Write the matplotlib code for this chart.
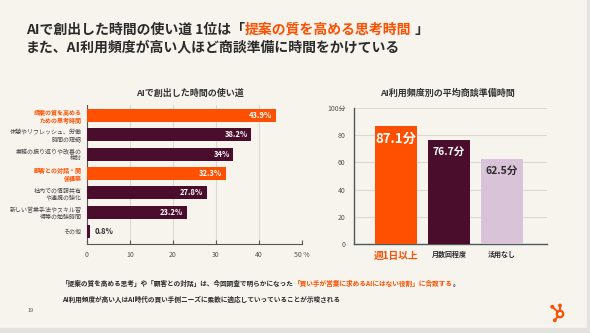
import matplotlib
matplotlib.use("Agg")
import matplotlib.pyplot as plt
from matplotlib.patches import Rectangle, Circle
from matplotlib.text import Annotation

plt.rcParams['font.family'] = ['Noto Sans CJK JP', 'DejaVu Sans']

# --- data ---
use_labels = [
    "提案の質を高める\nための思考時間",
    "休憩やリフレッシュ、労働\n時間の短縮",
    "業務の振り返りや改善の\n検討",
    "顧客との対話・関\n係構築",
    "社内での情報共有\nや連携の強化",
    "新しい営業手法やスキル習\n得等の勉強時間",
    "その他",
]
use_values = [43.9, 38.2, 34, 32.3, 27.8, 23.2, 0.8]
use_value_text = ["43.9%", "38.2%", "34%", "32.3%", "27.8%", "23.2%", "0.8%"]
use_highlight = [True, False, False, True, False, False, False]

freq_labels = ["週1日以上", "月数回程度", "活用なし"]
freq_values = [87.1, 76.7, 62.5]

ORANGE = "#ff4f00"
PLUM = "#4a0d2c"
LILAC = "#d8c3d9"
DARK = "#2b2b2b"
BG = "#f7f4ee"
GRID = "#dcd9d3"

fig = plt.figure(figsize=(5.9, 3.33), dpi=100)
fig.patch.set_facecolor(BG)


def follow(prev, text, color, size):
    # place a text right after another one, on the same baseline
    a = Annotation(text, xy=(1, 0), xycoords=prev, va="bottom", ha="left",
                   fontsize=size, fontweight="bold", color=color, annotation_clip=False)
    fig.add_artist(a)
    return a


# frame strips
fig.add_artist(Rectangle((0, 0), 1, 5 / 333, transform=fig.transFigure, color="#e3e2df", zorder=0))
fig.add_artist(Rectangle((587 / 590, 0), 3 / 590, 1, transform=fig.transFigure, color="#e3e2df", zorder=0))

# --- headline ---
t = fig.text(26 / 590, 1 - 30 / 333, "AIで創出した時間の使い道 1位は「", fontsize=10, fontweight="bold",
             color=DARK, va="center", ha="left")
t2 = follow(t, "提案の質を高める思考時間", ORANGE, 10)
follow(t2, " 」", DARK, 10)
fig.text(26 / 590, 1 - 47 / 333, "また、AI利用頻度が高い人ほど商談準備に時間をかけている", fontsize=10,
         fontweight="bold", color=DARK, va="center", ha="left")

# --- left chart ---
ax1 = fig.add_axes([87 / 590, 1 - 244 / 333, 215 / 590, 139 / 333])
ax1.set_facecolor(BG)
ypos = list(range(len(use_values)))
colors = [ORANGE if h else PLUM for h in use_highlight]
ax1.barh(ypos, use_values, height=0.67, color=colors, zorder=3)
ax1.set_xlim(0, 50)
ax1.set_ylim(6.65, -0.54)
ax1.set_xticks([0, 10, 20, 30, 40, 50])
ax1.set_xticklabels(["0", "10", "20", "30", "40", "50 %"])
ax1.tick_params(axis="x", direction="in", length=3, labelsize=5, colors="#555555", pad=5)
ax1.set_yticks(ypos)
ax1.set_yticklabels(use_labels)
ax1.tick_params(axis="y", length=0, labelsize=4.3, pad=4)
for lab, h in zip(ax1.get_yticklabels(), use_highlight):
    lab.set_color(ORANGE if h else "#444444")
    lab.set_linespacing(1.25)
    if h:
        lab.set_fontweight("bold")
ax1.grid(axis="x", color=GRID, linewidth=0.8, zorder=0)
for s in ["top", "right"]:
    ax1.spines[s].set_visible(False)
for s in ["left", "bottom"]:
    ax1.spines[s].set_color("#555555")
    ax1.spines[s].set_linewidth(0.8)
for y, v, txt in zip(ypos, use_values, use_value_text):
    if v > 5:
        ax1.text(v - 0.8, y, txt, color="white", fontsize=5.5, fontweight="bold",
                 ha="right", va="center", zorder=4)
    else:
        ax1.text(v + 1, y, txt, color=DARK, fontsize=5.5, fontweight="bold",
                 ha="left", va="center", zorder=4)
fig.text(190 / 590, 1 - 93 / 333, "AIで創出した時間の使い道", fontsize=6.5, fontweight="bold",
         color="#333333", ha="center", va="center")

# --- right chart ---
ax2 = fig.add_axes([354 / 590, 1 - 244 / 333, 193 / 590, 136 / 333])
ax2.set_facecolor(BG)
xpos = list(range(len(freq_values)))
ax2.bar(xpos, freq_values, width=0.79, color=[ORANGE, PLUM, LILAC], zorder=3)
ax2.set_xlim(-0.79, 2.85)
ax2.set_ylim(0, 100)
ax2.set_yticks([0, 20, 40, 60, 80, 100])
ax2.set_yticklabels(["0", "20", "40", "60", "80", "100分"])
ax2.tick_params(axis="y", length=0, labelsize=5, colors="#555555", pad=6)
ax2.set_xticks(xpos)
ax2.set_xticklabels(freq_labels)
ax2.tick_params(axis="x", length=0, pad=5)
xl = ax2.get_xticklabels()
xl[0].set_color(ORANGE)
xl[0].set_fontsize(7)
xl[0].set_fontweight("bold")
for lab in xl[1:]:
    lab.set_color(DARK)
    lab.set_fontsize(5)
    lab.set_fontweight("bold")
ax2.grid(axis="y", color=GRID, linewidth=0.8, zorder=0)
ax2.spines["top"].set_visible(False)
ax2.spines["right"].set_visible(False)
for s in ["left", "bottom"]:
    ax2.spines[s].set_color("#4d5a5a")
    ax2.spines[s].set_linewidth(1.0)
val_styles = [("white", 9.5), ("white", 7.5), (DARK, 7.5)]
for x, v, (c, fs) in zip(xpos, freq_values, val_styles):
    ax2.text(x, v - 9.5 + (0 if fs > 9 else 0.5), f"{v}分", color=c, fontsize=fs,
             fontweight="bold", ha="center", va="center", zorder=4)
fig.text(447 / 590, 1 - 93 / 333, "AI利用頻度別の平均商談準備時間", fontsize=6.5, fontweight="bold",
         color="#333333", ha="center", va="center")

# --- footnote ---
FS = 4.8
b1 = fig.text(62 / 590, 1 - 283 / 333, "「提案の質を高める思考」や「顧客との対話」は、今回調査で明らかになった",
              fontsize=FS, fontweight="bold", color=DARK, ha="left", va="center")
b2 = follow(b1, "「買い手が営業に求めるAIにはない役割」に合致する", ORANGE, FS)
follow(b2, "。", DARK, FS)
fig.text(62 / 590, 1 - 299 / 333, "AI利用頻度が高い人はAI時代の買い手側ニーズに柔軟に適応していっていることが示唆される",
         fontsize=FS, fontweight="bold", color=DARK, ha="left", va="center")

fig.text(31 / 590, 1 - 311 / 333, "19", fontsize=4, color="#555555", ha="center", va="center")

# --- logo ---
lax = fig.add_axes([544 / 590, 1 - 326 / 333, 26 / 590, 26 / 333])
lax.set_xlim(0, 26)
lax.set_ylim(26, 0)
lax.set_aspect("equal")
lax.axis("off")
lax.add_patch(Circle((16, 14), 3.2, fill=False, ec=ORANGE, lw=1.6))
lax.plot([8.5, 13.8], [7, 11.8], color=ORANGE, lw=1.4)
lax.plot([16, 16], [6, 10.8], color=ORANGE, lw=1.4)
lax.plot([13.8, 11], [16.5, 20], color=ORANGE, lw=1.4)
lax.add_patch(Circle((8.3, 6.8), 1.3, color=ORANGE))
lax.add_patch(Circle((16, 5.5), 1.2, color=ORANGE))
lax.add_patch(Circle((10.8, 20.3), 1.2, color=ORANGE))

fig.savefig("out.png", dpi=100, facecolor=fig.get_facecolor())
